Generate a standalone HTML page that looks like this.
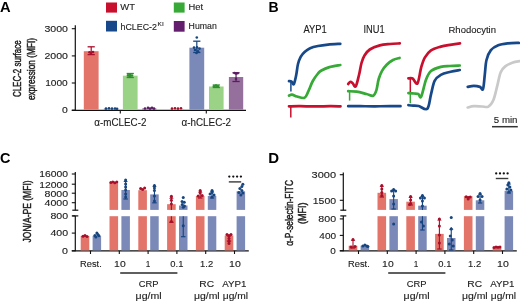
<!DOCTYPE html>
<html><head><meta charset="utf-8"><style>
html,body{margin:0;padding:0;background:#fff;}
body{width:520px;height:302px;overflow:hidden;}
svg{display:block;filter:blur(0.3px);font-family:"Liberation Sans", sans-serif;}
</style></head><body>
<svg width="520" height="302" viewBox="0 0 520 302">
<rect width="520" height="302" fill="#fff"/>
<text x="0.09" y="11.70" font-size="14.2" font-weight="bold" fill="#000" textLength="10.62" lengthAdjust="spacingAndGlyphs">A</text>
<rect x="106.00" y="2.50" width="11.00" height="10.10" fill="#C8102E"/>
<text x="120.31" y="10.40" font-size="9.8" font-weight="normal" fill="#1c1c1c" stroke="#1c1c1c" stroke-width="0.12" textLength="14.68" lengthAdjust="spacingAndGlyphs">WT</text>
<rect x="106.00" y="20.80" width="11.00" height="10.70" fill="#17498A"/>
<text x="120.51" y="29.60" font-size="9.8" font-weight="normal" fill="#1c1c1c" stroke="#1c1c1c" stroke-width="0.12" textLength="36.48" lengthAdjust="spacingAndGlyphs">hCLEC-2</text>
<text x="157.59" y="26.40" font-size="6.2" font-weight="normal" fill="#1c1c1c" stroke="#1c1c1c" stroke-width="0.12" textLength="6.12" lengthAdjust="spacingAndGlyphs">KI</text>
<rect x="173.80" y="2.50" width="10.80" height="10.10" fill="#36A936"/>
<text x="188.41" y="10.40" font-size="9.8" font-weight="normal" fill="#1c1c1c" stroke="#1c1c1c" stroke-width="0.12" textLength="14.58" lengthAdjust="spacingAndGlyphs">Het</text>
<rect x="173.80" y="21.00" width="10.80" height="10.70" fill="#641E6E"/>
<text x="188.61" y="29.40" font-size="9.8" font-weight="normal" fill="#1c1c1c" stroke="#1c1c1c" stroke-width="0.12" textLength="28.18" lengthAdjust="spacingAndGlyphs">Human</text>
<line x1="75.30" y1="25.20" x2="75.30" y2="110.80" stroke="#111" stroke-width="1.2"/>
<line x1="71.80" y1="28.70" x2="75.30" y2="28.70" stroke="#111" stroke-width="1.1"/>
<line x1="71.80" y1="55.90" x2="75.30" y2="55.90" stroke="#111" stroke-width="1.1"/>
<line x1="71.80" y1="83.00" x2="75.30" y2="83.00" stroke="#111" stroke-width="1.1"/>
<line x1="71.80" y1="110.20" x2="75.30" y2="110.20" stroke="#111" stroke-width="1.1"/>
<text x="44.45" y="31.60" font-size="9" font-weight="normal" fill="#1c1c1c" stroke="#1c1c1c" stroke-width="0.12" textLength="23.50" lengthAdjust="spacingAndGlyphs">3000</text>
<text x="44.45" y="58.90" font-size="9" font-weight="normal" fill="#1c1c1c" stroke="#1c1c1c" stroke-width="0.12" textLength="23.50" lengthAdjust="spacingAndGlyphs">2000</text>
<text x="45.15" y="86.00" font-size="9" font-weight="normal" fill="#1c1c1c" stroke="#1c1c1c" stroke-width="0.12" textLength="22.60" lengthAdjust="spacingAndGlyphs">1000</text>
<text x="61.95" y="113.20" font-size="9" font-weight="normal" fill="#1c1c1c" stroke="#1c1c1c" stroke-width="0.12" textLength="5.80" lengthAdjust="spacingAndGlyphs">0</text>
<line x1="71.80" y1="110.30" x2="246.00" y2="110.30" stroke="#111" stroke-width="1.2"/>
<line x1="120.30" y1="110.30" x2="120.30" y2="113.60" stroke="#111" stroke-width="1.1"/>
<line x1="206.30" y1="110.30" x2="206.30" y2="113.60" stroke="#111" stroke-width="1.1"/>
<text x="94.35" y="126.30" font-size="11" font-weight="normal" fill="#1c1c1c" stroke="#1c1c1c" stroke-width="0.12" textLength="52.10" lengthAdjust="spacingAndGlyphs">α-mCLEC-2</text>
<text x="181.45" y="126.30" font-size="11" font-weight="normal" fill="#1c1c1c" stroke="#1c1c1c" stroke-width="0.12" textLength="49.60" lengthAdjust="spacingAndGlyphs">α-hCLEC-2</text>
<text transform="translate(20.90,97.12) rotate(-90)" x="0" y="0" font-size="10.5" font-weight="normal" fill="#1c1c1c" stroke="#1c1c1c" stroke-width="0.45" textLength="56.75" lengthAdjust="spacingAndGlyphs">CLEC-2 surface</text>
<text transform="translate(34.90,100.12) rotate(-90)" x="0" y="0" font-size="10.5" font-weight="normal" fill="#1c1c1c" stroke="#1c1c1c" stroke-width="0.45" textLength="62.05" lengthAdjust="spacingAndGlyphs">expression (MFI)</text>
<rect x="83.80" y="51.20" width="14.80" height="58.50" fill="#E3746A"/>
<line x1="91.20" y1="46.80" x2="91.20" y2="54.60" stroke="#A80F2A" stroke-width="1.2"/>
<line x1="87.60" y1="46.80" x2="94.80" y2="46.80" stroke="#A80F2A" stroke-width="1.3"/>
<line x1="87.60" y1="54.60" x2="94.80" y2="54.60" stroke="#A80F2A" stroke-width="1.3"/>
<circle cx="91.00" cy="53.00" r="1.3" fill="#A80F2A"/>
<circle cx="89.50" cy="52.30" r="1.3" fill="#A80F2A"/>
<circle cx="93.00" cy="52.00" r="1.3" fill="#A80F2A"/>
<rect x="103.80" y="108.60" width="14.60" height="1.10" fill="#7A89B8"/>
<circle cx="106.00" cy="108.60" r="1.3" fill="#16457F"/>
<circle cx="109.00" cy="108.30" r="1.3" fill="#16457F"/>
<circle cx="112.00" cy="108.60" r="1.3" fill="#16457F"/>
<circle cx="115.00" cy="108.50" r="1.3" fill="#16457F"/>
<circle cx="117.00" cy="108.80" r="1.3" fill="#16457F"/>
<rect x="122.90" y="75.70" width="14.70" height="34.00" fill="#9AD386"/>
<line x1="130.25" y1="73.50" x2="130.25" y2="77.50" stroke="#2F8F2F" stroke-width="1.2"/>
<line x1="126.65" y1="73.50" x2="133.85" y2="73.50" stroke="#2F8F2F" stroke-width="1.3"/>
<line x1="126.65" y1="77.50" x2="133.85" y2="77.50" stroke="#2F8F2F" stroke-width="1.3"/>
<circle cx="128.00" cy="75.40" r="1.3" fill="#2F8F2F"/>
<circle cx="130.00" cy="74.80" r="1.3" fill="#2F8F2F"/>
<circle cx="132.00" cy="75.50" r="1.3" fill="#2F8F2F"/>
<circle cx="130.00" cy="76.20" r="1.3" fill="#2F8F2F"/>
<rect x="142.20" y="108.40" width="14.20" height="1.30" fill="#96709C"/>
<circle cx="145.00" cy="108.50" r="1.3" fill="#5A1C63"/>
<circle cx="148.00" cy="107.70" r="1.3" fill="#5A1C63"/>
<circle cx="150.00" cy="108.60" r="1.3" fill="#5A1C63"/>
<circle cx="152.00" cy="107.80" r="1.3" fill="#5A1C63"/>
<circle cx="154.00" cy="108.60" r="1.3" fill="#5A1C63"/>
<rect x="170.00" y="109.40" width="14.40" height="0.30" fill="#E3746A"/>
<circle cx="172.00" cy="108.60" r="1.3" fill="#A80F2A"/>
<circle cx="175.00" cy="108.30" r="1.3" fill="#A80F2A"/>
<circle cx="178.00" cy="108.60" r="1.3" fill="#A80F2A"/>
<circle cx="181.00" cy="108.30" r="1.3" fill="#A80F2A"/>
<rect x="189.40" y="47.70" width="14.80" height="62.00" fill="#7A89B8"/>
<line x1="196.80" y1="41.20" x2="196.80" y2="52.50" stroke="#16457F" stroke-width="1.2"/>
<line x1="193.20" y1="41.20" x2="200.40" y2="41.20" stroke="#16457F" stroke-width="1.3"/>
<line x1="193.20" y1="52.50" x2="200.40" y2="52.50" stroke="#16457F" stroke-width="1.3"/>
<circle cx="196.80" cy="37.50" r="1.3" fill="#16457F"/>
<circle cx="194.00" cy="47.60" r="1.3" fill="#16457F"/>
<circle cx="197.00" cy="47.20" r="1.3" fill="#16457F"/>
<circle cx="199.50" cy="48.60" r="1.3" fill="#16457F"/>
<circle cx="195.00" cy="50.00" r="1.3" fill="#16457F"/>
<circle cx="198.00" cy="51.20" r="1.3" fill="#16457F"/>
<circle cx="196.50" cy="53.00" r="1.3" fill="#16457F"/>
<rect x="209.00" y="86.50" width="14.60" height="23.20" fill="#9AD386"/>
<line x1="216.30" y1="85.00" x2="216.30" y2="87.50" stroke="#2F8F2F" stroke-width="1.2"/>
<line x1="212.70" y1="85.00" x2="219.90" y2="85.00" stroke="#2F8F2F" stroke-width="1.3"/>
<line x1="212.70" y1="87.50" x2="219.90" y2="87.50" stroke="#2F8F2F" stroke-width="1.3"/>
<circle cx="214.00" cy="86.30" r="1.3" fill="#2F8F2F"/>
<circle cx="216.00" cy="85.60" r="1.3" fill="#2F8F2F"/>
<circle cx="218.00" cy="86.20" r="1.3" fill="#2F8F2F"/>
<rect x="228.90" y="77.00" width="14.30" height="32.70" fill="#96709C"/>
<line x1="236.05" y1="72.80" x2="236.05" y2="81.50" stroke="#5A1C63" stroke-width="1.2"/>
<line x1="232.45" y1="72.80" x2="239.65" y2="72.80" stroke="#5A1C63" stroke-width="1.3"/>
<line x1="232.45" y1="81.50" x2="239.65" y2="81.50" stroke="#5A1C63" stroke-width="1.3"/>
<circle cx="236.00" cy="73.50" r="1.3" fill="#5A1C63"/>
<circle cx="234.50" cy="73.00" r="1.3" fill="#5A1C63"/>
<circle cx="237.50" cy="73.20" r="1.3" fill="#5A1C63"/>
<circle cx="236.00" cy="79.00" r="1.3" fill="#5A1C63"/>
<text x="268.59" y="11.80" font-size="14.2" font-weight="bold" fill="#000" textLength="10.12" lengthAdjust="spacingAndGlyphs">B</text>
<text x="303.50" y="32.80" font-size="10" font-weight="normal" fill="#1c1c1c" stroke="#1c1c1c" stroke-width="0.12" textLength="23.30" lengthAdjust="spacingAndGlyphs">AYP1</text>
<text x="363.50" y="32.80" font-size="10" font-weight="normal" fill="#1c1c1c" stroke="#1c1c1c" stroke-width="0.12" textLength="21.20" lengthAdjust="spacingAndGlyphs">INU1</text>
<text x="448.51" y="32.60" font-size="9.7" font-weight="normal" fill="#1c1c1c" stroke="#1c1c1c" stroke-width="0.12" textLength="47.47" lengthAdjust="spacingAndGlyphs">Rhodocytin</text>
<text x="493.82" y="122.90" font-size="9.6" font-weight="normal" fill="#1c1c1c" stroke="#1c1c1c" stroke-width="0.12" textLength="23.66" lengthAdjust="spacingAndGlyphs">5 min</text>
<line x1="492.00" y1="126.70" x2="517.80" y2="126.70" stroke="#333" stroke-width="1.5"/>
<path d="M289.00,106.30 C290.83,106.28 295.67,106.18 300.00,106.20 C304.33,106.22 310.00,106.40 315.00,106.40 C320.00,106.40 325.75,106.22 330.00,106.20 C334.25,106.18 338.75,106.28 340.50,106.30" fill="none" stroke="#C8102E" stroke-width="2.7" stroke-linecap="round" stroke-linejoin="round"/>
<line x1="290.80" y1="106.00" x2="290.80" y2="117.40" stroke="#C8102E" stroke-width="1.5"/>
<path d="M289.00,81.20 C289.43,81.27 290.80,81.10 291.60,81.60 C292.40,82.10 293.03,85.28 293.80,84.20 C294.57,83.12 295.50,78.47 296.20,75.10 C296.90,71.73 297.23,67.08 298.00,64.00 C298.77,60.92 299.70,58.62 300.80,56.60 C301.90,54.58 303.05,53.30 304.60,51.90 C306.15,50.50 307.87,49.18 310.10,48.20 C312.33,47.22 315.02,46.60 318.00,46.00 C320.98,45.40 324.28,44.97 328.00,44.60 C331.72,44.23 338.25,43.93 340.30,43.80" fill="none" stroke="#17498A" stroke-width="2.7" stroke-linecap="round" stroke-linejoin="round"/>
<line x1="290.90" y1="81.50" x2="290.90" y2="91.60" stroke="#17498A" stroke-width="1.5"/>
<path d="M289.00,95.60 C289.50,95.43 290.67,94.45 292.00,94.60 C293.33,94.75 294.92,95.97 297.00,96.50 C299.08,97.03 302.62,98.65 304.50,97.80 C306.38,96.95 306.92,94.20 308.30,91.40 C309.68,88.60 311.18,83.98 312.80,81.00 C314.42,78.02 316.57,75.25 318.00,73.50 C319.43,71.75 319.50,71.57 321.40,70.50 C323.30,69.43 326.25,68.02 329.40,67.10 C332.55,66.18 338.48,65.35 340.30,65.00" fill="none" stroke="#36A936" stroke-width="2.7" stroke-linecap="round" stroke-linejoin="round"/>
<path d="M348.20,106.20 C350.17,106.20 355.53,106.18 360.00,106.20 C364.47,106.22 370.00,106.32 375.00,106.30 C380.00,106.28 385.75,106.12 390.00,106.10 C394.25,106.08 398.75,106.18 400.50,106.20" fill="none" stroke="#17498A" stroke-width="2.7" stroke-linecap="round" stroke-linejoin="round"/>
<path d="M348.20,84.00 C348.50,83.67 349.28,82.17 350.00,82.00 C350.72,81.83 351.55,82.27 352.50,83.00 C353.45,83.73 354.62,87.73 355.70,86.40 C356.78,85.07 358.03,78.90 359.00,75.00 C359.97,71.10 360.58,66.25 361.50,63.00 C362.42,59.75 363.12,57.75 364.50,55.50 C365.88,53.25 367.25,51.18 369.80,49.50 C372.35,47.82 376.43,46.32 379.80,45.40 C383.17,44.48 386.67,44.33 390.00,44.00 C393.33,43.67 398.17,43.50 399.80,43.40" fill="none" stroke="#C8102E" stroke-width="2.7" stroke-linecap="round" stroke-linejoin="round"/>
<path d="M348.20,91.20 C349.60,91.27 353.55,91.13 356.60,91.60 C359.65,92.07 363.73,93.30 366.50,94.00 C369.27,94.70 371.55,96.43 373.20,95.80 C374.85,95.17 375.48,93.00 376.40,90.20 C377.32,87.40 377.78,82.18 378.70,79.00 C379.62,75.82 380.57,73.48 381.90,71.10 C383.23,68.72 384.85,66.55 386.70,64.70 C388.55,62.85 390.85,61.12 393.00,60.00 C395.15,58.88 398.50,58.33 399.60,58.00" fill="none" stroke="#36A936" stroke-width="2.7" stroke-linecap="round" stroke-linejoin="round"/>
<line x1="349.60" y1="91.00" x2="349.60" y2="100.60" stroke="#36A936" stroke-width="1.5"/>
<path d="M408.40,105.20 C409.17,105.27 411.28,105.47 413.00,105.60 C414.72,105.73 416.32,105.47 418.70,106.00 C421.08,106.53 425.25,110.73 427.30,108.80 C429.35,106.87 429.78,99.05 431.00,94.40 C432.22,89.75 432.97,84.17 434.60,80.90 C436.23,77.63 438.13,76.32 440.80,74.80 C443.47,73.28 447.43,72.60 450.60,71.80 C453.77,71.00 458.27,70.30 459.80,70.00" fill="none" stroke="#17498A" stroke-width="2.7" stroke-linecap="round" stroke-linejoin="round"/>
<path d="M408.40,93.10 C409.33,93.17 412.37,93.35 414.00,93.50 C415.63,93.65 417.00,93.48 418.20,94.00 C419.40,94.52 419.90,98.98 421.20,96.60 C422.50,94.22 424.37,83.95 426.00,79.70 C427.63,75.45 428.53,73.23 431.00,71.10 C433.47,68.97 437.63,67.75 440.80,66.90 C443.97,66.05 446.83,66.23 450.00,66.00 C453.17,65.77 458.17,65.58 459.80,65.50" fill="none" stroke="#36A936" stroke-width="2.7" stroke-linecap="round" stroke-linejoin="round"/>
<line x1="410.30" y1="93.00" x2="410.30" y2="103.30" stroke="#36A936" stroke-width="1.5"/>
<path d="M408.40,78.40 C409.10,78.42 411.08,77.68 412.60,78.50 C414.12,79.32 416.07,85.15 417.50,83.30 C418.93,81.45 419.98,71.68 421.20,67.40 C422.42,63.12 423.17,60.45 424.80,57.60 C426.43,54.75 428.33,52.13 431.00,50.30 C433.67,48.47 437.63,47.52 440.80,46.60 C443.97,45.68 446.80,45.33 450.00,44.80 C453.20,44.27 458.33,43.63 460.00,43.40" fill="none" stroke="#C8102E" stroke-width="2.7" stroke-linecap="round" stroke-linejoin="round"/>
<line x1="410.30" y1="78.50" x2="410.30" y2="92.00" stroke="#C8102E" stroke-width="1.5"/>
<path d="M467.70,107.50 C468.72,107.28 471.42,106.37 473.80,106.20 C476.18,106.03 479.57,106.43 482.00,106.50 C484.43,106.57 486.52,107.63 488.40,106.60 C490.28,105.57 491.87,103.58 493.30,100.30 C494.73,97.02 495.77,91.58 497.00,86.90 C498.23,82.22 499.27,75.67 500.70,72.20 C502.13,68.73 503.57,67.73 505.60,66.10 C507.63,64.47 510.58,63.22 512.90,62.40 C515.22,61.58 518.40,61.40 519.50,61.20" fill="none" stroke="#C9C9C9" stroke-width="2.7" stroke-linecap="round" stroke-linejoin="round"/>
<path d="M467.70,86.90 C468.72,86.73 471.77,85.90 473.80,85.90 C475.83,85.90 478.37,86.37 479.90,86.90 C481.43,87.43 482.18,91.13 483.00,89.10 C483.82,87.07 484.22,79.55 484.80,74.70 C485.38,69.85 485.48,64.08 486.50,60.00 C487.52,55.92 488.95,52.65 490.90,50.20 C492.85,47.75 495.35,46.43 498.20,45.30 C501.05,44.17 504.57,43.80 508.00,43.40 C511.43,43.00 517.00,42.98 518.80,42.90" fill="none" stroke="#17498A" stroke-width="2.7" stroke-linecap="round" stroke-linejoin="round"/>
<text x="0.09" y="162.60" font-size="14.2" font-weight="bold" fill="#000" textLength="10.42" lengthAdjust="spacingAndGlyphs">C</text>
<text transform="translate(31.00,242.43) rotate(-90)" x="0" y="0" font-size="10.6" font-weight="normal" fill="#1c1c1c" stroke="#1c1c1c" stroke-width="0.45" textLength="62.06" lengthAdjust="spacingAndGlyphs">JON/A-PE (MFI)</text>
<line x1="75.30" y1="172.00" x2="75.30" y2="210.20" stroke="#111" stroke-width="1.2"/>
<line x1="72.30" y1="210.20" x2="78.30" y2="210.20" stroke="#111" stroke-width="1.2"/>
<line x1="75.30" y1="215.90" x2="75.30" y2="251.30" stroke="#111" stroke-width="1.2"/>
<line x1="72.30" y1="215.90" x2="78.30" y2="215.90" stroke="#111" stroke-width="1.2"/>
<line x1="71.80" y1="174.00" x2="75.30" y2="174.00" stroke="#111" stroke-width="1.1"/>
<text x="39.23" y="177.30" font-size="9.4" font-weight="normal" fill="#1c1c1c" stroke="#1c1c1c" stroke-width="0.12" textLength="28.84" lengthAdjust="spacingAndGlyphs">16000</text>
<line x1="71.80" y1="184.20" x2="75.30" y2="184.20" stroke="#111" stroke-width="1.1"/>
<text x="39.23" y="187.50" font-size="9.4" font-weight="normal" fill="#1c1c1c" stroke="#1c1c1c" stroke-width="0.12" textLength="28.84" lengthAdjust="spacingAndGlyphs">12000</text>
<line x1="71.80" y1="193.20" x2="75.30" y2="193.20" stroke="#111" stroke-width="1.1"/>
<text x="44.53" y="196.50" font-size="9.4" font-weight="normal" fill="#1c1c1c" stroke="#1c1c1c" stroke-width="0.12" textLength="23.54" lengthAdjust="spacingAndGlyphs">8000</text>
<line x1="71.80" y1="202.70" x2="75.30" y2="202.70" stroke="#111" stroke-width="1.1"/>
<text x="44.53" y="206.00" font-size="9.4" font-weight="normal" fill="#1c1c1c" stroke="#1c1c1c" stroke-width="0.12" textLength="23.54" lengthAdjust="spacingAndGlyphs">4000</text>
<line x1="71.80" y1="215.90" x2="75.30" y2="215.90" stroke="#111" stroke-width="1.1"/>
<text x="50.43" y="219.20" font-size="9.4" font-weight="normal" fill="#1c1c1c" stroke="#1c1c1c" stroke-width="0.12" textLength="17.64" lengthAdjust="spacingAndGlyphs">800</text>
<line x1="71.80" y1="233.10" x2="75.30" y2="233.10" stroke="#111" stroke-width="1.1"/>
<text x="50.43" y="236.40" font-size="9.4" font-weight="normal" fill="#1c1c1c" stroke="#1c1c1c" stroke-width="0.12" textLength="17.64" lengthAdjust="spacingAndGlyphs">400</text>
<line x1="71.80" y1="250.80" x2="75.30" y2="250.80" stroke="#111" stroke-width="1.1"/>
<text x="61.93" y="254.10" font-size="9.4" font-weight="normal" fill="#1c1c1c" stroke="#1c1c1c" stroke-width="0.12" textLength="5.94" lengthAdjust="spacingAndGlyphs">0</text>
<line x1="71.80" y1="250.90" x2="248.80" y2="250.90" stroke="#111" stroke-width="1.2"/>
<line x1="90.50" y1="250.90" x2="90.50" y2="254.00" stroke="#111" stroke-width="1.1"/>
<line x1="119.30" y1="250.90" x2="119.30" y2="254.00" stroke="#111" stroke-width="1.1"/>
<line x1="148.10" y1="250.90" x2="148.10" y2="254.00" stroke="#111" stroke-width="1.1"/>
<line x1="176.90" y1="250.90" x2="176.90" y2="254.00" stroke="#111" stroke-width="1.1"/>
<line x1="205.70" y1="250.90" x2="205.70" y2="254.00" stroke="#111" stroke-width="1.1"/>
<line x1="234.50" y1="250.90" x2="234.50" y2="254.00" stroke="#111" stroke-width="1.1"/>
<text x="80.12" y="266.80" font-size="9.6" font-weight="normal" fill="#1c1c1c" stroke="#1c1c1c" stroke-width="0.12" textLength="21.66" lengthAdjust="spacingAndGlyphs">Rest.</text>
<text x="114.12" y="266.80" font-size="9.6" font-weight="normal" fill="#1c1c1c" stroke="#1c1c1c" stroke-width="0.12" textLength="11.56" lengthAdjust="spacingAndGlyphs">10</text>
<text x="145.72" y="266.80" font-size="9.6" font-weight="normal" fill="#1c1c1c" stroke="#1c1c1c" stroke-width="0.12" textLength="4.56" lengthAdjust="spacingAndGlyphs">1</text>
<text x="170.32" y="266.80" font-size="9.6" font-weight="normal" fill="#1c1c1c" stroke="#1c1c1c" stroke-width="0.12" textLength="13.06" lengthAdjust="spacingAndGlyphs">0.1</text>
<text x="200.12" y="266.80" font-size="9.6" font-weight="normal" fill="#1c1c1c" stroke="#1c1c1c" stroke-width="0.12" textLength="13.06" lengthAdjust="spacingAndGlyphs">1.2</text>
<text x="229.12" y="266.80" font-size="9.6" font-weight="normal" fill="#1c1c1c" stroke="#1c1c1c" stroke-width="0.12" textLength="11.76" lengthAdjust="spacingAndGlyphs">10</text>
<line x1="120.20" y1="273.00" x2="177.40" y2="273.00" stroke="#2a2a2a" stroke-width="1.5"/>
<text x="138.72" y="287.20" font-size="9.6" font-weight="normal" fill="#1c1c1c" stroke="#1c1c1c" stroke-width="0.12" textLength="19.76" lengthAdjust="spacingAndGlyphs">CRP</text>
<text x="199.32" y="287.20" font-size="9.6" font-weight="normal" fill="#1c1c1c" stroke="#1c1c1c" stroke-width="0.12" textLength="14.76" lengthAdjust="spacingAndGlyphs">RC</text>
<text x="222.22" y="287.20" font-size="9.6" font-weight="normal" fill="#1c1c1c" stroke="#1c1c1c" stroke-width="0.12" textLength="24.26" lengthAdjust="spacingAndGlyphs">AYP1</text>
<text x="135.64" y="299.30" font-size="9.2" font-weight="normal" fill="#1c1c1c" stroke="#1c1c1c" stroke-width="0.12" textLength="26.02" lengthAdjust="spacingAndGlyphs">μg/ml</text>
<text x="193.94" y="299.30" font-size="9.2" font-weight="normal" fill="#1c1c1c" stroke="#1c1c1c" stroke-width="0.12" textLength="25.72" lengthAdjust="spacingAndGlyphs">μg/ml</text>
<text x="222.74" y="299.30" font-size="9.2" font-weight="normal" fill="#1c1c1c" stroke="#1c1c1c" stroke-width="0.12" textLength="25.22" lengthAdjust="spacingAndGlyphs">μg/ml</text>
<rect x="80.70" y="235.90" width="8.60" height="14.50" fill="#E3746A"/>
<circle cx="83.00" cy="236.20" r="1.5" fill="#A80F2A"/>
<circle cx="85.00" cy="235.60" r="1.5" fill="#A80F2A"/>
<circle cx="87.00" cy="236.40" r="1.5" fill="#A80F2A"/>
<rect x="92.60" y="235.80" width="8.50" height="14.60" fill="#7A89B8"/>
<circle cx="94.85" cy="235.50" r="1.5" fill="#16457F"/>
<circle cx="96.85" cy="233.00" r="1.5" fill="#16457F"/>
<circle cx="98.85" cy="235.80" r="1.5" fill="#16457F"/>
<circle cx="95.85" cy="237.00" r="1.5" fill="#16457F"/>
<circle cx="97.85" cy="234.50" r="1.5" fill="#16457F"/>
<rect x="109.50" y="183.20" width="8.60" height="26.70" fill="#E3746A"/>
<rect x="109.50" y="216.20" width="8.60" height="34.20" fill="#E3746A"/>
<circle cx="110.80" cy="182.50" r="1.5" fill="#A80F2A"/>
<circle cx="112.80" cy="182.00" r="1.5" fill="#A80F2A"/>
<circle cx="114.80" cy="182.80" r="1.5" fill="#A80F2A"/>
<circle cx="116.80" cy="182.00" r="1.5" fill="#A80F2A"/>
<rect x="121.40" y="190.00" width="8.50" height="19.90" fill="#7A89B8"/>
<rect x="121.40" y="216.20" width="8.50" height="34.20" fill="#7A89B8"/>
<line x1="125.65" y1="179.80" x2="125.65" y2="199.00" stroke="#16457F" stroke-width="1.1"/>
<path d="M125.65,179.40 L127.95,182.00 L123.35,182.00 Z" fill="#16457F"/>
<line x1="123.45" y1="199.00" x2="127.85" y2="199.00" stroke="#16457F" stroke-width="1.2"/>
<circle cx="125.65" cy="180.00" r="1.5" fill="#16457F"/>
<circle cx="125.65" cy="184.00" r="1.5" fill="#16457F"/>
<circle cx="125.65" cy="187.00" r="1.5" fill="#16457F"/>
<circle cx="125.65" cy="190.00" r="1.5" fill="#16457F"/>
<circle cx="125.65" cy="194.00" r="1.5" fill="#16457F"/>
<circle cx="125.65" cy="197.00" r="1.5" fill="#16457F"/>
<rect x="138.30" y="190.20" width="8.60" height="19.70" fill="#E3746A"/>
<rect x="138.30" y="216.20" width="8.60" height="34.20" fill="#E3746A"/>
<circle cx="140.60" cy="188.50" r="1.5" fill="#A80F2A"/>
<circle cx="142.60" cy="189.50" r="1.5" fill="#A80F2A"/>
<circle cx="144.60" cy="188.00" r="1.5" fill="#A80F2A"/>
<rect x="150.20" y="194.40" width="8.50" height="15.50" fill="#7A89B8"/>
<rect x="150.20" y="216.20" width="8.50" height="34.20" fill="#7A89B8"/>
<line x1="154.45" y1="184.80" x2="154.45" y2="202.80" stroke="#16457F" stroke-width="1.1"/>
<path d="M154.45,184.40 L156.75,187.00 L152.15,187.00 Z" fill="#16457F"/>
<line x1="152.25" y1="202.80" x2="156.65" y2="202.80" stroke="#16457F" stroke-width="1.2"/>
<circle cx="154.45" cy="185.50" r="1.5" fill="#16457F"/>
<circle cx="154.45" cy="188.00" r="1.5" fill="#16457F"/>
<circle cx="154.45" cy="190.50" r="1.5" fill="#16457F"/>
<circle cx="154.45" cy="196.00" r="1.5" fill="#16457F"/>
<circle cx="154.45" cy="201.00" r="1.5" fill="#16457F"/>
<rect x="167.10" y="204.20" width="8.60" height="5.70" fill="#E3746A"/>
<rect x="167.10" y="216.20" width="8.60" height="34.20" fill="#E3746A"/>
<line x1="171.40" y1="196.50" x2="171.40" y2="209.90" stroke="#A80F2A" stroke-width="1.1"/>
<path d="M171.40,196.10 L173.70,198.70 L169.10,198.70 Z" fill="#A80F2A"/>
<line x1="171.40" y1="216.20" x2="171.40" y2="222.30" stroke="#A80F2A" stroke-width="1.1"/>
<line x1="169.20" y1="222.30" x2="173.60" y2="222.30" stroke="#A80F2A" stroke-width="1.2"/>
<circle cx="171.40" cy="196.30" r="1.5" fill="#A80F2A"/>
<circle cx="171.40" cy="200.20" r="1.5" fill="#A80F2A"/>
<circle cx="171.40" cy="204.00" r="1.5" fill="#A80F2A"/>
<circle cx="171.40" cy="221.50" r="1.5" fill="#A80F2A"/>
<rect x="179.00" y="205.50" width="8.50" height="4.40" fill="#7A89B8"/>
<rect x="179.00" y="216.20" width="8.50" height="34.20" fill="#7A89B8"/>
<line x1="183.25" y1="216.20" x2="183.25" y2="236.70" stroke="#16457F" stroke-width="1.1"/>
<line x1="181.05" y1="236.70" x2="185.45" y2="236.70" stroke="#16457F" stroke-width="1.2"/>
<circle cx="183.25" cy="197.40" r="1.5" fill="#16457F"/>
<circle cx="182.05" cy="201.50" r="1.5" fill="#16457F"/>
<circle cx="184.25" cy="202.30" r="1.5" fill="#16457F"/>
<circle cx="182.25" cy="204.50" r="1.5" fill="#16457F"/>
<circle cx="184.45" cy="206.00" r="1.5" fill="#16457F"/>
<circle cx="183.25" cy="207.20" r="1.5" fill="#16457F"/>
<circle cx="183.25" cy="225.80" r="1.5" fill="#16457F"/>
<rect x="195.90" y="196.00" width="8.60" height="13.90" fill="#E3746A"/>
<rect x="195.90" y="216.20" width="8.60" height="34.20" fill="#E3746A"/>
<line x1="200.20" y1="190.20" x2="200.20" y2="198.00" stroke="#A80F2A" stroke-width="1.1"/>
<path d="M200.20,189.80 L202.50,192.40 L197.90,192.40 Z" fill="#A80F2A"/>
<line x1="198.00" y1="198.00" x2="202.40" y2="198.00" stroke="#A80F2A" stroke-width="1.2"/>
<circle cx="198.20" cy="196.00" r="1.5" fill="#A80F2A"/>
<circle cx="200.20" cy="193.00" r="1.5" fill="#A80F2A"/>
<circle cx="202.20" cy="195.50" r="1.5" fill="#A80F2A"/>
<circle cx="200.20" cy="190.50" r="1.5" fill="#A80F2A"/>
<rect x="207.80" y="196.00" width="8.50" height="13.90" fill="#7A89B8"/>
<rect x="207.80" y="216.20" width="8.50" height="34.20" fill="#7A89B8"/>
<line x1="212.05" y1="190.00" x2="212.05" y2="198.00" stroke="#16457F" stroke-width="1.1"/>
<path d="M212.05,189.60 L214.35,192.20 L209.75,192.20 Z" fill="#16457F"/>
<line x1="209.85" y1="198.00" x2="214.25" y2="198.00" stroke="#16457F" stroke-width="1.2"/>
<circle cx="212.05" cy="190.50" r="1.5" fill="#16457F"/>
<circle cx="210.05" cy="194.00" r="1.5" fill="#16457F"/>
<circle cx="214.05" cy="195.00" r="1.5" fill="#16457F"/>
<circle cx="212.05" cy="197.00" r="1.5" fill="#16457F"/>
<circle cx="212.05" cy="192.50" r="1.5" fill="#16457F"/>
<rect x="224.70" y="235.50" width="8.60" height="14.90" fill="#E3746A"/>
<line x1="229.00" y1="234.30" x2="229.00" y2="241.00" stroke="#A80F2A" stroke-width="1.1"/>
<path d="M229.00,233.90 L231.30,236.50 L226.70,236.50 Z" fill="#A80F2A"/>
<line x1="226.80" y1="241.00" x2="231.20" y2="241.00" stroke="#A80F2A" stroke-width="1.2"/>
<circle cx="229.00" cy="236.00" r="1.5" fill="#A80F2A"/>
<circle cx="229.00" cy="238.50" r="1.5" fill="#A80F2A"/>
<circle cx="229.00" cy="241.50" r="1.5" fill="#A80F2A"/>
<circle cx="227.00" cy="234.60" r="1.5" fill="#A80F2A"/>
<circle cx="231.00" cy="234.60" r="1.5" fill="#A80F2A"/>
<circle cx="229.00" cy="243.50" r="1.5" fill="#A80F2A"/>
<rect x="236.60" y="191.30" width="8.50" height="18.60" fill="#7A89B8"/>
<rect x="236.60" y="216.20" width="8.50" height="34.20" fill="#7A89B8"/>
<circle cx="242.85" cy="184.20" r="1.5" fill="#16457F"/>
<circle cx="241.85" cy="186.50" r="1.5" fill="#16457F"/>
<circle cx="239.85" cy="188.50" r="1.5" fill="#16457F"/>
<circle cx="241.85" cy="190.50" r="1.5" fill="#16457F"/>
<circle cx="238.85" cy="192.50" r="1.5" fill="#16457F"/>
<circle cx="242.85" cy="193.00" r="1.5" fill="#16457F"/>
<circle cx="240.85" cy="195.00" r="1.5" fill="#16457F"/>
<circle cx="229.30" cy="176.60" r="1.15" fill="#111"/>
<circle cx="233.30" cy="176.60" r="1.15" fill="#111"/>
<circle cx="237.10" cy="176.60" r="1.15" fill="#111"/>
<circle cx="240.90" cy="176.60" r="1.15" fill="#111"/>
<line x1="228.80" y1="181.90" x2="241.20" y2="181.90" stroke="#3a3a3a" stroke-width="1.4"/>
<text x="268.29" y="162.60" font-size="14.2" font-weight="bold" fill="#000" textLength="10.82" lengthAdjust="spacingAndGlyphs">D</text>
<text transform="translate(292.50,245.83) rotate(-90)" x="0" y="0" font-size="10.6" font-weight="normal" fill="#1c1c1c" stroke="#1c1c1c" stroke-width="0.45" textLength="65.76" lengthAdjust="spacingAndGlyphs">α-P-selectin-FITC</text>
<text transform="translate(306.00,224.03) rotate(-90)" x="0" y="0" font-size="10.6" font-weight="normal" fill="#1c1c1c" stroke="#1c1c1c" stroke-width="0.45" textLength="21.56" lengthAdjust="spacingAndGlyphs">(MFI)</text>
<line x1="343.30" y1="172.50" x2="343.30" y2="210.20" stroke="#111" stroke-width="1.2"/>
<line x1="340.30" y1="210.20" x2="346.30" y2="210.20" stroke="#111" stroke-width="1.2"/>
<line x1="343.30" y1="215.90" x2="343.30" y2="251.30" stroke="#111" stroke-width="1.2"/>
<line x1="340.30" y1="215.90" x2="346.30" y2="215.90" stroke="#111" stroke-width="1.2"/>
<line x1="339.80" y1="174.70" x2="343.30" y2="174.70" stroke="#111" stroke-width="1.1"/>
<text x="311.63" y="178.00" font-size="9.4" font-weight="normal" fill="#1c1c1c" stroke="#1c1c1c" stroke-width="0.12" textLength="24.44" lengthAdjust="spacingAndGlyphs">3000</text>
<line x1="339.80" y1="200.30" x2="343.30" y2="200.30" stroke="#111" stroke-width="1.1"/>
<text x="312.73" y="203.60" font-size="9.4" font-weight="normal" fill="#1c1c1c" stroke="#1c1c1c" stroke-width="0.12" textLength="23.34" lengthAdjust="spacingAndGlyphs">1500</text>
<line x1="339.80" y1="218.90" x2="343.30" y2="218.90" stroke="#111" stroke-width="1.1"/>
<text x="318.33" y="222.20" font-size="9.4" font-weight="normal" fill="#1c1c1c" stroke="#1c1c1c" stroke-width="0.12" textLength="17.74" lengthAdjust="spacingAndGlyphs">800</text>
<line x1="339.80" y1="235.40" x2="343.30" y2="235.40" stroke="#111" stroke-width="1.1"/>
<text x="319.33" y="238.70" font-size="9.4" font-weight="normal" fill="#1c1c1c" stroke="#1c1c1c" stroke-width="0.12" textLength="16.74" lengthAdjust="spacingAndGlyphs">400</text>
<line x1="339.80" y1="250.70" x2="343.30" y2="250.70" stroke="#111" stroke-width="1.1"/>
<text x="330.33" y="254.00" font-size="9.4" font-weight="normal" fill="#1c1c1c" stroke="#1c1c1c" stroke-width="0.12" textLength="5.54" lengthAdjust="spacingAndGlyphs">0</text>
<line x1="339.80" y1="250.90" x2="516.80" y2="250.90" stroke="#111" stroke-width="1.2"/>
<line x1="358.50" y1="250.90" x2="358.50" y2="254.00" stroke="#111" stroke-width="1.1"/>
<line x1="387.30" y1="250.90" x2="387.30" y2="254.00" stroke="#111" stroke-width="1.1"/>
<line x1="416.10" y1="250.90" x2="416.10" y2="254.00" stroke="#111" stroke-width="1.1"/>
<line x1="444.90" y1="250.90" x2="444.90" y2="254.00" stroke="#111" stroke-width="1.1"/>
<line x1="473.70" y1="250.90" x2="473.70" y2="254.00" stroke="#111" stroke-width="1.1"/>
<line x1="502.50" y1="250.90" x2="502.50" y2="254.00" stroke="#111" stroke-width="1.1"/>
<text x="348.12" y="266.80" font-size="9.6" font-weight="normal" fill="#1c1c1c" stroke="#1c1c1c" stroke-width="0.12" textLength="21.66" lengthAdjust="spacingAndGlyphs">Rest.</text>
<text x="382.12" y="266.80" font-size="9.6" font-weight="normal" fill="#1c1c1c" stroke="#1c1c1c" stroke-width="0.12" textLength="11.56" lengthAdjust="spacingAndGlyphs">10</text>
<text x="413.72" y="266.80" font-size="9.6" font-weight="normal" fill="#1c1c1c" stroke="#1c1c1c" stroke-width="0.12" textLength="4.56" lengthAdjust="spacingAndGlyphs">1</text>
<text x="438.32" y="266.80" font-size="9.6" font-weight="normal" fill="#1c1c1c" stroke="#1c1c1c" stroke-width="0.12" textLength="13.06" lengthAdjust="spacingAndGlyphs">0.1</text>
<text x="468.12" y="266.80" font-size="9.6" font-weight="normal" fill="#1c1c1c" stroke="#1c1c1c" stroke-width="0.12" textLength="13.06" lengthAdjust="spacingAndGlyphs">1.2</text>
<text x="497.12" y="266.80" font-size="9.6" font-weight="normal" fill="#1c1c1c" stroke="#1c1c1c" stroke-width="0.12" textLength="11.76" lengthAdjust="spacingAndGlyphs">10</text>
<line x1="388.20" y1="273.00" x2="445.40" y2="273.00" stroke="#2a2a2a" stroke-width="1.5"/>
<text x="406.72" y="287.20" font-size="9.6" font-weight="normal" fill="#1c1c1c" stroke="#1c1c1c" stroke-width="0.12" textLength="19.76" lengthAdjust="spacingAndGlyphs">CRP</text>
<text x="467.32" y="287.20" font-size="9.6" font-weight="normal" fill="#1c1c1c" stroke="#1c1c1c" stroke-width="0.12" textLength="14.76" lengthAdjust="spacingAndGlyphs">RC</text>
<text x="490.22" y="287.20" font-size="9.6" font-weight="normal" fill="#1c1c1c" stroke="#1c1c1c" stroke-width="0.12" textLength="24.26" lengthAdjust="spacingAndGlyphs">AYP1</text>
<text x="403.64" y="299.30" font-size="9.2" font-weight="normal" fill="#1c1c1c" stroke="#1c1c1c" stroke-width="0.12" textLength="26.02" lengthAdjust="spacingAndGlyphs">μg/ml</text>
<text x="461.94" y="299.30" font-size="9.2" font-weight="normal" fill="#1c1c1c" stroke="#1c1c1c" stroke-width="0.12" textLength="25.72" lengthAdjust="spacingAndGlyphs">μg/ml</text>
<text x="490.74" y="299.30" font-size="9.2" font-weight="normal" fill="#1c1c1c" stroke="#1c1c1c" stroke-width="0.12" textLength="25.22" lengthAdjust="spacingAndGlyphs">μg/ml</text>
<rect x="348.70" y="245.70" width="8.60" height="4.70" fill="#E3746A"/>
<line x1="353.00" y1="238.80" x2="353.00" y2="248.00" stroke="#A80F2A" stroke-width="1.1"/>
<path d="M353.00,238.40 L355.30,241.00 L350.70,241.00 Z" fill="#A80F2A"/>
<line x1="350.80" y1="248.00" x2="355.20" y2="248.00" stroke="#A80F2A" stroke-width="1.2"/>
<circle cx="353.00" cy="239.50" r="1.5" fill="#A80F2A"/>
<circle cx="351.00" cy="247.00" r="1.5" fill="#A80F2A"/>
<circle cx="355.00" cy="246.50" r="1.5" fill="#A80F2A"/>
<rect x="360.60" y="245.70" width="8.50" height="4.70" fill="#7A89B8"/>
<circle cx="362.85" cy="246.00" r="1.5" fill="#16457F"/>
<circle cx="364.85" cy="245.00" r="1.5" fill="#16457F"/>
<circle cx="366.85" cy="246.00" r="1.5" fill="#16457F"/>
<circle cx="367.85" cy="246.50" r="1.5" fill="#16457F"/>
<rect x="377.50" y="192.80" width="8.60" height="17.10" fill="#E3746A"/>
<rect x="377.50" y="216.20" width="8.60" height="34.20" fill="#E3746A"/>
<line x1="381.80" y1="184.80" x2="381.80" y2="197.00" stroke="#A80F2A" stroke-width="1.1"/>
<path d="M381.80,184.40 L384.10,187.00 L379.50,187.00 Z" fill="#A80F2A"/>
<line x1="379.60" y1="197.00" x2="384.00" y2="197.00" stroke="#A80F2A" stroke-width="1.2"/>
<circle cx="381.80" cy="185.50" r="1.5" fill="#A80F2A"/>
<circle cx="381.80" cy="189.00" r="1.5" fill="#A80F2A"/>
<circle cx="381.80" cy="192.50" r="1.5" fill="#A80F2A"/>
<circle cx="381.80" cy="195.50" r="1.5" fill="#A80F2A"/>
<rect x="389.40" y="199.10" width="8.50" height="10.80" fill="#7A89B8"/>
<rect x="389.40" y="216.20" width="8.50" height="34.20" fill="#7A89B8"/>
<line x1="393.65" y1="188.80" x2="393.65" y2="209.00" stroke="#16457F" stroke-width="1.1"/>
<path d="M393.65,188.40 L395.95,191.00 L391.35,191.00 Z" fill="#16457F"/>
<line x1="391.45" y1="209.00" x2="395.85" y2="209.00" stroke="#16457F" stroke-width="1.2"/>
<circle cx="393.65" cy="189.50" r="1.5" fill="#16457F"/>
<circle cx="391.65" cy="191.00" r="1.5" fill="#16457F"/>
<circle cx="395.65" cy="191.00" r="1.5" fill="#16457F"/>
<circle cx="393.65" cy="196.00" r="1.5" fill="#16457F"/>
<circle cx="393.65" cy="204.00" r="1.5" fill="#16457F"/>
<circle cx="393.65" cy="224.00" r="1.5" fill="#16457F"/>
<rect x="406.30" y="201.70" width="8.60" height="8.20" fill="#E3746A"/>
<rect x="406.30" y="216.20" width="8.60" height="34.20" fill="#E3746A"/>
<line x1="410.60" y1="195.80" x2="410.60" y2="205.00" stroke="#A80F2A" stroke-width="1.1"/>
<path d="M410.60,195.40 L412.90,198.00 L408.30,198.00 Z" fill="#A80F2A"/>
<line x1="408.40" y1="205.00" x2="412.80" y2="205.00" stroke="#A80F2A" stroke-width="1.2"/>
<circle cx="410.60" cy="196.50" r="1.5" fill="#A80F2A"/>
<circle cx="410.60" cy="200.00" r="1.5" fill="#A80F2A"/>
<circle cx="410.60" cy="203.50" r="1.5" fill="#A80F2A"/>
<circle cx="409.60" cy="204.50" r="1.5" fill="#A80F2A"/>
<rect x="418.20" y="205.70" width="8.50" height="4.20" fill="#7A89B8"/>
<rect x="418.20" y="216.20" width="8.50" height="34.20" fill="#7A89B8"/>
<line x1="422.45" y1="194.80" x2="422.45" y2="209.90" stroke="#16457F" stroke-width="1.1"/>
<path d="M422.45,194.40 L424.75,197.00 L420.15,197.00 Z" fill="#16457F"/>
<line x1="422.45" y1="216.20" x2="422.45" y2="230.00" stroke="#16457F" stroke-width="1.1"/>
<line x1="420.25" y1="230.00" x2="424.65" y2="230.00" stroke="#16457F" stroke-width="1.2"/>
<circle cx="422.45" cy="195.50" r="1.5" fill="#16457F"/>
<circle cx="420.45" cy="198.00" r="1.5" fill="#16457F"/>
<circle cx="424.45" cy="198.00" r="1.5" fill="#16457F"/>
<circle cx="422.45" cy="201.00" r="1.5" fill="#16457F"/>
<circle cx="422.45" cy="206.00" r="1.5" fill="#16457F"/>
<circle cx="421.45" cy="222.00" r="1.5" fill="#16457F"/>
<circle cx="423.45" cy="226.00" r="1.5" fill="#16457F"/>
<rect x="435.10" y="233.90" width="8.60" height="16.50" fill="#E3746A"/>
<line x1="439.40" y1="218.20" x2="439.40" y2="249.00" stroke="#A80F2A" stroke-width="1.1"/>
<path d="M439.40,217.80 L441.70,220.40 L437.10,220.40 Z" fill="#A80F2A"/>
<line x1="437.20" y1="249.00" x2="441.60" y2="249.00" stroke="#A80F2A" stroke-width="1.2"/>
<circle cx="439.40" cy="219.00" r="1.5" fill="#A80F2A"/>
<circle cx="439.40" cy="226.00" r="1.5" fill="#A80F2A"/>
<circle cx="439.40" cy="235.00" r="1.5" fill="#A80F2A"/>
<circle cx="439.40" cy="243.00" r="1.5" fill="#A80F2A"/>
<rect x="447.00" y="238.00" width="8.50" height="12.40" fill="#7A89B8"/>
<line x1="451.25" y1="227.60" x2="451.25" y2="250.00" stroke="#16457F" stroke-width="1.1"/>
<path d="M451.25,227.20 L453.55,229.80 L448.95,229.80 Z" fill="#16457F"/>
<line x1="449.05" y1="250.00" x2="453.45" y2="250.00" stroke="#16457F" stroke-width="1.2"/>
<circle cx="451.25" cy="217.50" r="1.5" fill="#16457F"/>
<circle cx="451.25" cy="229.00" r="1.5" fill="#16457F"/>
<circle cx="450.25" cy="236.00" r="1.5" fill="#16457F"/>
<circle cx="452.25" cy="240.00" r="1.5" fill="#16457F"/>
<circle cx="449.25" cy="244.00" r="1.5" fill="#16457F"/>
<circle cx="453.25" cy="246.00" r="1.5" fill="#16457F"/>
<rect x="463.90" y="196.20" width="8.60" height="13.70" fill="#E3746A"/>
<rect x="463.90" y="216.20" width="8.60" height="34.20" fill="#E3746A"/>
<circle cx="466.20" cy="196.80" r="1.5" fill="#A80F2A"/>
<circle cx="468.20" cy="197.50" r="1.5" fill="#A80F2A"/>
<circle cx="470.20" cy="197.00" r="1.5" fill="#A80F2A"/>
<circle cx="468.20" cy="199.00" r="1.5" fill="#A80F2A"/>
<rect x="475.80" y="200.30" width="8.50" height="9.60" fill="#7A89B8"/>
<rect x="475.80" y="216.20" width="8.50" height="34.20" fill="#7A89B8"/>
<line x1="480.05" y1="193.00" x2="480.05" y2="203.00" stroke="#16457F" stroke-width="1.1"/>
<path d="M480.05,192.60 L482.35,195.20 L477.75,195.20 Z" fill="#16457F"/>
<line x1="477.85" y1="203.00" x2="482.25" y2="203.00" stroke="#16457F" stroke-width="1.2"/>
<circle cx="480.05" cy="193.50" r="1.5" fill="#16457F"/>
<circle cx="478.05" cy="196.50" r="1.5" fill="#16457F"/>
<circle cx="482.05" cy="196.50" r="1.5" fill="#16457F"/>
<circle cx="480.05" cy="200.00" r="1.5" fill="#16457F"/>
<rect x="492.70" y="248.00" width="8.60" height="2.40" fill="#E3746A"/>
<circle cx="494.00" cy="247.50" r="1.5" fill="#A80F2A"/>
<circle cx="496.00" cy="247.00" r="1.5" fill="#A80F2A"/>
<circle cx="498.00" cy="247.30" r="1.5" fill="#A80F2A"/>
<circle cx="500.00" cy="246.90" r="1.5" fill="#A80F2A"/>
<rect x="504.60" y="190.80" width="8.50" height="19.10" fill="#7A89B8"/>
<rect x="504.60" y="216.20" width="8.50" height="34.20" fill="#7A89B8"/>
<line x1="508.85" y1="182.20" x2="508.85" y2="193.00" stroke="#16457F" stroke-width="1.1"/>
<path d="M508.85,181.80 L511.15,184.40 L506.55,184.40 Z" fill="#16457F"/>
<line x1="506.65" y1="193.00" x2="511.05" y2="193.00" stroke="#16457F" stroke-width="1.2"/>
<circle cx="508.85" cy="182.80" r="1.5" fill="#16457F"/>
<circle cx="507.85" cy="185.00" r="1.5" fill="#16457F"/>
<circle cx="509.85" cy="187.00" r="1.5" fill="#16457F"/>
<circle cx="506.85" cy="189.00" r="1.5" fill="#16457F"/>
<circle cx="510.85" cy="190.00" r="1.5" fill="#16457F"/>
<circle cx="508.85" cy="192.00" r="1.5" fill="#16457F"/>
<circle cx="496.20" cy="173.40" r="1.15" fill="#111"/>
<circle cx="500.00" cy="173.40" r="1.15" fill="#111"/>
<circle cx="503.80" cy="173.40" r="1.15" fill="#111"/>
<circle cx="507.60" cy="173.40" r="1.15" fill="#111"/>
<line x1="495.80" y1="178.50" x2="508.30" y2="178.50" stroke="#3a3a3a" stroke-width="1.4"/>
</svg>
</body></html>
